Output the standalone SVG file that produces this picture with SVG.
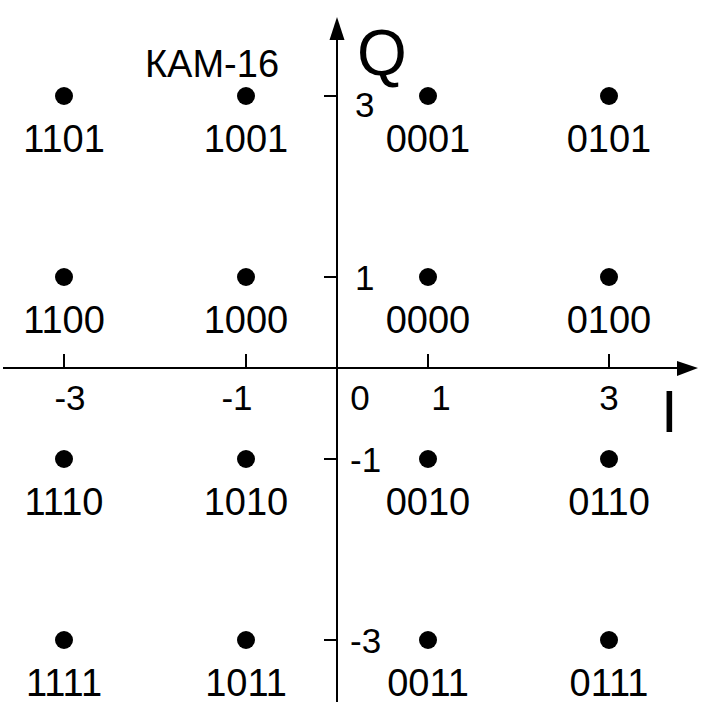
<svg xmlns="http://www.w3.org/2000/svg" width="702" height="712" viewBox="0 0 702 712">
<style>
text{font-family:"Liberation Sans",Arial,sans-serif;fill:#000}
.lbl{font-size:38px;text-anchor:middle}
.tl{font-size:35px;text-anchor:middle}
.tk{font-size:35px}
.ax{stroke:#000;stroke-width:2;fill:none}
.pt{fill:#000}
</style>
<rect width="702" height="712" fill="#fff"/>
<g id="axes">
<line class="ax" x1="3" y1="368" x2="680" y2="368"/>
<polygon points="698,368 677,361 677,376" fill="#000"/>
<line class="ax" x1="337" y1="702" x2="337" y2="38"/>
<polygon points="337,17 329.5,40 344.5,40" fill="#000"/>
<g class="ax">
<line x1="64" y1="354" x2="64" y2="368"/>
<line x1="246" y1="354" x2="246" y2="368"/>
<line x1="428" y1="354" x2="428" y2="368"/>
<line x1="609" y1="354" x2="609" y2="368"/>
<line x1="324" y1="96" x2="337" y2="96"/>
<line x1="324" y1="277" x2="337" y2="277"/>
<line x1="324" y1="459" x2="337" y2="459"/>
<line x1="324" y1="640" x2="337" y2="640"/>
</g>
<text x="357" y="75" style="font-size:64px">Q</text>
<text x="661" y="432" style="font-size:60px">I</text>
<text class="tl" x="70" y="410">-3</text>
<text class="tl" x="237" y="410">-1</text>
<text class="tl" x="360" y="410">0</text>
<text class="tl" x="441" y="410">1</text>
<text class="tl" x="609" y="410">3</text>
<text class="tk" x="355" y="117">3</text>
<text class="tk" x="355" y="290">1</text>
<text class="tk" x="350" y="472">-1</text>
<text class="tk" x="350" y="653">-3</text>
<text x="212" y="77" style="font-size:38px;text-anchor:middle">КАМ-16</text>
</g>
<g id="p1101"><circle class="pt" cx="64" cy="96" r="9"/><text class="lbl" x="64" y="152">1101</text></g>
<g id="p1001"><circle class="pt" cx="246" cy="96" r="9"/><text class="lbl" x="246" y="152">1001</text></g>
<g id="p0001"><circle class="pt" cx="428" cy="96" r="9"/><text class="lbl" x="428" y="152">0001</text></g>
<g id="p0101"><circle class="pt" cx="609" cy="96" r="9"/><text class="lbl" x="609" y="152">0101</text></g>
<g id="p1100"><circle class="pt" cx="64" cy="277" r="9"/><text class="lbl" x="64" y="333">1100</text></g>
<g id="p1000"><circle class="pt" cx="246" cy="277" r="9"/><text class="lbl" x="246" y="333">1000</text></g>
<g id="p0000"><circle class="pt" cx="428" cy="277" r="9"/><text class="lbl" x="428" y="333">0000</text></g>
<g id="p0100"><circle class="pt" cx="609" cy="277" r="9"/><text class="lbl" x="609" y="333">0100</text></g>
<g id="p1110"><circle class="pt" cx="64" cy="459" r="9"/><text class="lbl" x="64" y="515">1110</text></g>
<g id="p1010"><circle class="pt" cx="246" cy="459" r="9"/><text class="lbl" x="246" y="515">1010</text></g>
<g id="p0010"><circle class="pt" cx="428" cy="459" r="9"/><text class="lbl" x="428" y="515">0010</text></g>
<g id="p0110"><circle class="pt" cx="609" cy="459" r="9"/><text class="lbl" x="609" y="515">0110</text></g>
<g id="p1111"><circle class="pt" cx="64" cy="640" r="9"/><text class="lbl" x="64" y="696">1111</text></g>
<g id="p1011"><circle class="pt" cx="246" cy="640" r="9"/><text class="lbl" x="246" y="696">1011</text></g>
<g id="p0011"><circle class="pt" cx="428" cy="640" r="9"/><text class="lbl" x="428" y="696">0011</text></g>
<g id="p0111"><circle class="pt" cx="609" cy="640" r="9"/><text class="lbl" x="609" y="696">0111</text></g>
</svg>
